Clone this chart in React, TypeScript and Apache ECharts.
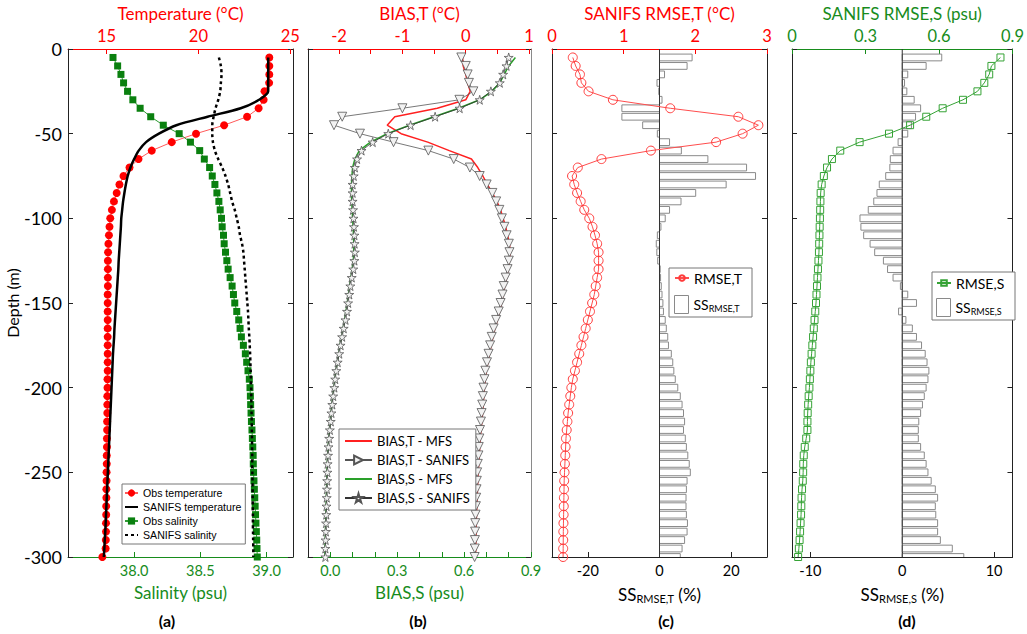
import React, { useEffect, useRef } from 'react';
import * as echarts from 'echarts';

// Depth levels (m), one per observation / model level
const depth = [
  -5, -10, -15, -20, -25, -30, -35, -40, -45, -50,
  -55, -60, -65, -70, -75, -80, -85, -90, -95, -100,
  -105, -110, -115, -120, -125, -130, -135, -140, -145, -150,
  -155, -160, -165, -170, -175, -180, -185, -190, -195, -200,
  -205, -210, -215, -220, -225, -230, -235, -240, -245, -250,
  -255, -260, -265, -270, -275, -280, -285, -290, -295, -300,
];

// (a) profiles
const obsTemp = [
  23.86, 23.86, 23.86, 23.85, 23.6, 23.55, 23.28, 22.65, 21.4, 19.87,
  18.55, 17.46, 16.74, 16.25, 15.92, 15.7, 15.55, 15.4, 15.29, 15.2,
  15.16, 15.13, 15.1, 15.08, 15.07, 15.07, 15.07, 15.07, 15.06, 15.06,
  15.06, 15.06, 15.06, 15.06, 15.06, 15.06, 15.06, 15.06, 15.05, 15.05,
  15.04, 15.04, 15.04, 15.03, 15.03, 15.02, 15.02, 15.01, 15.01, 15.0,
  15.0, 14.99, 14.99, 14.98, 14.98, 14.97, 14.97, 14.96, 14.95, 14.77,
];
const sanifsTemp = [
  23.8, 23.8, 23.8, 23.8, 23.8, 23.3, 22.3, 20.5, 18.8, 17.85,
  17.15, 16.75, 16.5, 16.3, 16.15, 16.05, 15.97, 15.9, 15.85, 15.8,
  15.78, 15.75, 15.72, 15.69, 15.66, 15.64, 15.61, 15.58, 15.55, 15.52,
  15.49, 15.46, 15.43, 15.41, 15.38, 15.35, 15.33, 15.31, 15.29, 15.27,
  15.25, 15.23, 15.21, 15.19, 15.17, 15.15, 15.13, 15.11, 15.09, 15.07,
  15.05, 15.03, 15.01, 14.99, 14.97, 14.95, 14.93, 14.9, 14.88, 14.85,
];
const obsSal = [
  37.84, 37.875, 37.9, 37.92, 37.95, 37.99, 38.045, 38.125, 38.22, 38.34,
  38.425, 38.495, 38.53, 38.57, 38.59, 38.61, 38.625, 38.64, 38.65, 38.66,
  38.665, 38.675, 38.68, 38.69, 38.7, 38.71, 38.725, 38.74, 38.75, 38.76,
  38.775, 38.79, 38.8, 38.81, 38.825, 38.84, 38.85, 38.86, 38.87, 38.875,
  38.878, 38.88, 38.883, 38.886, 38.89, 38.893, 38.896, 38.899, 38.9, 38.902,
  38.905, 38.908, 38.911, 38.914, 38.917, 38.92, 38.923, 38.926, 38.928, 38.93,
];
const sanifsSal = [
  38.64, 38.655, 38.66, 38.655, 38.65, 38.635, 38.615, 38.6, 38.59, 38.59,
  38.595, 38.61, 38.635, 38.665, 38.69, 38.71, 38.725, 38.74, 38.76, 38.775,
  38.79, 38.8, 38.815, 38.825, 38.83, 38.835, 38.84, 38.845, 38.85, 38.855,
  38.86, 38.863, 38.866, 38.87, 38.873, 38.876, 38.878, 38.88, 38.882, 38.884,
  38.885, 38.886, 38.887, 38.888, 38.889, 38.89, 38.891, 38.892, 38.892, 38.893,
  38.894, 38.895, 38.895, 38.896, 38.897, 38.897, 38.898, 38.899, 38.9, 38.9,
];

// (b) biases
const biasTMfs = [
  -0.05, -0.04, 0.0, 0.03, 0.07, 0.0, -0.45, -1.12, -1.24, -1.02,
  -0.6, -0.26, 0.09, 0.19, 0.27, 0.34, 0.42, 0.49, 0.55, 0.59,
  0.63, 0.66, 0.69, 0.7, 0.69, 0.67, 0.645, 0.615, 0.59, 0.565,
  0.535, 0.5, 0.46, 0.43, 0.4, 0.375, 0.35, 0.325, 0.31, 0.295,
  0.285, 0.275, 0.265, 0.255, 0.24, 0.23, 0.22, 0.215, 0.205, 0.195,
  0.19, 0.185, 0.18, 0.175, 0.17, 0.165, 0.163, 0.16, 0.158, 0.155,
];
const biasTSanifs = [
  -0.07, 0.0, 0.03, 0.05, 0.12, -0.1, -1.0, -1.95, -2.08, -1.67,
  -1.14, -0.59, -0.19, 0.065, 0.22, 0.33, 0.42, 0.48, 0.53, 0.57,
  0.61, 0.645, 0.68, 0.69, 0.68, 0.66, 0.63, 0.6, 0.58, 0.55,
  0.52, 0.48, 0.44, 0.41, 0.385, 0.36, 0.335, 0.31, 0.295, 0.28,
  0.27, 0.26, 0.25, 0.24, 0.225, 0.215, 0.205, 0.2, 0.19, 0.18,
  0.175, 0.17, 0.165, 0.16, 0.155, 0.15, 0.148, 0.145, 0.143, 0.14,
];
const biasSMfs = [
  0.83, 0.8, 0.78, 0.76, 0.725, 0.67, 0.575, 0.465, 0.355, 0.255,
  0.18, 0.13, 0.11, 0.1, 0.097, 0.095, 0.095, 0.096, 0.098, 0.1,
  0.102, 0.104, 0.105, 0.105, 0.103, 0.098, 0.092, 0.086, 0.081, 0.076,
  0.07, 0.064, 0.057, 0.05, 0.043, 0.037, 0.031, 0.025, 0.02, 0.016,
  0.011, 0.007, 0.003, 0.0, -0.004, -0.007, -0.01, -0.012, -0.014, -0.015,
  -0.016, -0.017, -0.018, -0.019, -0.02, -0.021, -0.022, -0.023, -0.024, -0.024,
];
const biasSSanifs = [
  0.8, 0.79, 0.775, 0.76, 0.72, 0.67, 0.58, 0.47, 0.36, 0.26,
  0.19, 0.14, 0.12, 0.11, 0.105, 0.1, 0.1, 0.1, 0.102, 0.104,
  0.106, 0.108, 0.109, 0.11, 0.108, 0.103, 0.096, 0.09, 0.085, 0.08,
  0.075, 0.068, 0.06, 0.053, 0.046, 0.04, 0.033, 0.027, 0.022, 0.018,
  0.013, 0.009, 0.005, 0.002, -0.002, -0.005, -0.008, -0.01, -0.012, -0.013,
  -0.014, -0.015, -0.016, -0.017, -0.018, -0.019, -0.02, -0.021, -0.022, -0.022,
];

// (c) temperature RMSE and skill score
const rmseT = [
  0.29, 0.33, 0.39, 0.41, 0.51, 0.85, 1.65, 2.6, 2.88, 2.66,
  2.29, 1.38, 0.69, 0.36, 0.28, 0.31, 0.35, 0.4, 0.45, 0.52,
  0.565, 0.6, 0.63, 0.65, 0.65, 0.65, 0.63, 0.61, 0.59, 0.56,
  0.53, 0.5, 0.47, 0.44, 0.41, 0.38, 0.35, 0.32, 0.29, 0.27,
  0.255, 0.24, 0.225, 0.215, 0.205, 0.195, 0.19, 0.185, 0.18, 0.175,
  0.17, 0.168, 0.166, 0.164, 0.162, 0.16, 0.158, 0.157, 0.156, 0.155,
];
const ssT = [
  9.1, 7.7, 1.4, -0.7, -0.2, 0.7, -10.5, -10.5, -4.7, -0.6,
  2.8, 6.1, 13.5, 24.3, 26.8, 18.6, 10.1, 6.0, 2.8, 1.6,
  0.4, -0.6, -0.9, -0.75, -0.5, 0.2, 0.3, 0.5, 0.7, 0.95,
  1.1, 1.6, 1.9, 2.3, 2.5, 3.3, 3.7, 4.0, 4.4, 5.1,
  5.8, 6.3, 6.7, 7.0, 6.7, 7.2, 7.5, 7.9, 8.3, 8.6,
  7.7, 7.5, 7.4, 7.4, 7.5, 7.8, 7.7, 7.0, 6.3, 5.8,
];

// (d) salinity RMSE and skill score
const rmseS = [
  0.851, 0.814, 0.805, 0.785, 0.757, 0.698, 0.615, 0.548, 0.482, 0.396,
  0.276, 0.197, 0.163, 0.143, 0.13, 0.121, 0.117, 0.116, 0.115, 0.114,
  0.113, 0.112, 0.111, 0.11, 0.108, 0.106, 0.104, 0.102, 0.1, 0.098,
  0.095, 0.092, 0.089, 0.086, 0.083, 0.08, 0.077, 0.075, 0.073, 0.071,
  0.068, 0.066, 0.064, 0.063, 0.063, 0.058, 0.052, 0.048, 0.046, 0.0455,
  0.044, 0.041, 0.039, 0.038, 0.037, 0.035, 0.033, 0.031, 0.028, 0.025,
];
const ssS = [
  4.3, 2.6, 0.6, 0.25, 0.5, 1.3, 2.0, 1.45, 1.0, 0.6,
  -0.45, -1.0, -1.3, -1.35, -1.8, -2.5, -2.75, -3.1, -3.7, -4.6,
  -4.5, -4.2, -3.5, -3.0, -2.05, -1.6, -1.0, -0.2, 0.6, 1.55,
  -0.4, 0.4, 1.1, 1.55, 2.1, 2.5, 2.7, 2.9, 2.8, 2.6,
  2.4, 2.2, 2.0, 1.8, 1.75, 1.75, 2.0, 2.4, 2.6, 2.8,
  3.15, 3.6, 3.85, 3.6, 3.65, 3.85, 3.85, 4.15, 5.45, 6.7,
];

// Tick positions
const depthTicks = [0, -50, -100, -150, -200, -250, -300];
const tempTicks = [15, 20, 25];
const salTicks = [38.0, 38.5, 39.0];
const biasTLabels = [-2, -1, 0, 1];
const biasTTicks = [-2, -1.5, -1, -0.5, 0, 0.5, 1];
const biasSLabels = [0.0, 0.3, 0.6, 0.9];
const biasSTicks = [0.0, 0.1, 0.2, 0.3, 0.4, 0.5, 0.6, 0.7, 0.8, 0.9];
const rmseTTicks = [0, 1, 2, 3];
const ssTTicks = [-20, 0, 20];
const rmseSTicks = [0, 0.3, 0.6, 0.9];
const ssSTicks = [-10, 0, 10];

const FONT = 'Lato';
const RED = '#ff0000';
const GREEN = '#178c1c';
const DARK = '#222222';
const CLEAR = 'rgba(0,0,0,0)';

const pair = (xs: number[]) => xs.map((v, i) => [v, depth[i]]);
const fixed1 = (v: number) => v.toFixed(1);

const GRID_TOP = 49;
const GRID_H = 508;

function xAxisDef(
  gridIndex: number,
  position: 'top' | 'bottom',
  min: number,
  max: number,
  labels: number[],
  ticks: number[],
  color: string,
  textColor: string,
  name: string,
  formatter?: (v: number) => string,
  rich?: any,
) {
  const top = position === 'top';
  return {
    type: 'value',
    gridIndex,
    position,
    min,
    max,
    axisLine: { show: true, onZero: false, lineStyle: { color, width: 1 } },
    axisTick: { show: true, inside: true, length: 5, customValues: ticks, lineStyle: { color, width: 1 } },
    axisLabel: {
      show: true,
      customValues: labels,
      color: textColor,
      fontFamily: FONT,
      fontSize: top ? 16.5 : 14.5,
      margin: top ? 5 : 6,
      formatter,
    },
    splitLine: { show: false },
    name,
    nameLocation: 'middle',
    nameGap: top ? 24 : 27,
    nameTextStyle: { color: textColor, fontFamily: FONT, fontSize: 17, rich },
  };
}

function yAxisDef(gridIndex: number, position: 'left' | 'right', withLabels: boolean, lineColor = DARK) {
  return {
    type: 'value',
    gridIndex,
    position,
    min: -300,
    max: 0,
    interval: 50,
    axisLine: { show: true, onZero: false, lineStyle: { color: lineColor, width: 1 } },
    axisTick: { show: true, inside: true, length: 5, customValues: depthTicks, lineStyle: { color: DARK } },
    axisLabel: {
      show: withLabels,
      color: '#000',
      fontFamily: FONT,
      fontSize: 18,
      margin: 6,
    },
    splitLine: { show: false },
    name: withLabels ? 'Depth (m)' : '',
    nameLocation: 'middle',
    nameGap: 45,
    nameTextStyle: { color: '#000', fontFamily: FONT, fontSize: 16 },
  };
}

function skillBars(name: string, xAxisIndex: number, yAxisIndex: number, values: number[]) {
  return {
    name,
    type: 'custom',
    xAxisIndex,
    yAxisIndex,
    clip: true,
    z: 1,
    data: pair(values),
    encode: { x: 0, y: 1 },
    itemStyle: { color: '#ffffff', borderColor: '#8a8a8a', borderWidth: 1 },
    renderItem: (_params: any, api: any) => {
      const v = api.value(0);
      const d = api.value(1);
      const a = api.coord([0, d]);
      const b = api.coord([v, d]);
      const h = api.size([0, 5])[1] * 0.8;
      return {
        type: 'rect',
        shape: { x: Math.min(a[0], b[0]), y: a[1] - h / 2, width: Math.abs(b[0] - a[0]), height: h },
        style: { fill: '#ffffff', stroke: '#8a8a8a', lineWidth: 1 },
      };
    },
  };
}

function zeroLine(xAxisIndex: number, yAxisIndex: number) {
  return {
    type: 'line',
    xAxisIndex,
    yAxisIndex,
    data: [[0, 0], [0, -300]],
    symbol: 'none',
    silent: true,
    z: 2,
    lineStyle: { color: '#333', width: 1 },
  };
}

// A profile drawn as a plain line; its marker stays hidden so the legend key is a bare line
function plainLine(name: string, xAxisIndex: number, yAxisIndex: number, values: number[], lineStyle: any, smooth = 0) {
  return {
    name,
    type: 'line',
    xAxisIndex,
    yAxisIndex,
    z: 5,
    data: pair(values),
    symbol: 'circle',
    showSymbol: false,
    smooth,
    itemStyle: { color: CLEAR, borderWidth: 0 },
    lineStyle,
  };
}

const STAR = 'path://M50,0 L61,35 L98,35 L68,57 L79,91 L50,70 L21,91 L32,57 L2,35 L39,35 Z';

const subRich = {
  m: { fontFamily: FONT, fontSize: 17, color: '#000' },
  s: { fontFamily: FONT, fontSize: 11, color: '#000', padding: [9, 0, 0, 0] },
};
const legendRich = {
  m: { fontFamily: FONT, fontSize: 14, color: '#000' },
  s: { fontFamily: FONT, fontSize: 9, color: '#000', padding: [7, 0, 0, 0] },
};

const plainLegend = {
  orient: 'vertical',
  selectedMode: false,
  padding: 0,
  z: 20,
  textStyle: { fontFamily: FONT, fontSize: 14, color: '#000', rich: legendRich },
};

const panelLabel = (text: string, x: number) => ({
  type: 'text',
  x,
  y: 620,
  style: { text, font: `bold 16px ${FONT}`, fill: '#000', align: 'center', verticalAlign: 'middle' },
});

function buildOption() {
  return {
    animation: false,
    backgroundColor: '#ffffff',
    grid: [
      { left: 68, top: GRID_TOP, width: 225, height: GRID_H },
      { left: 308, top: GRID_TOP, width: 223, height: GRID_H },
      { left: 552, top: GRID_TOP, width: 215, height: GRID_H },
      { left: 792, top: GRID_TOP, width: 226, height: GRID_H },
    ],
    xAxis: [
      xAxisDef(0, 'top', 12.9, 25.15, tempTicks, tempTicks, RED, RED, 'Temperature (°C)'),
      xAxisDef(0, 'bottom', 37.5, 39.2, salTicks, salTicks, GREEN, GREEN, 'Salinity (psu)', fixed1),
      xAxisDef(1, 'top', -2.49, 1.03, biasTLabels, biasTTicks, RED, RED, 'BIAS,T (°C)'),
      xAxisDef(1, 'bottom', -0.1, 0.9, biasSLabels, biasSTicks, GREEN, GREEN, 'BIAS,S (psu)', fixed1),
      xAxisDef(2, 'top', 0, 3, rmseTTicks, rmseTTicks, RED, RED, 'SANIFS RMSE,T (°C)'),
      xAxisDef(2, 'bottom', -30, 30, ssTTicks, ssTTicks, DARK, '#000', '{m|SS}{s|RMSE,T}{m| (%)}', undefined, subRich),
      xAxisDef(3, 'top', 0, 0.9, rmseSTicks, rmseSTicks, GREEN, GREEN, 'SANIFS RMSE,S (psu)', (v: number) => (v === 0 ? '0' : v.toFixed(1))),
      xAxisDef(3, 'bottom', -12, 12, ssSTicks, ssSTicks, DARK, '#000', '{m|SS}{s|RMSE,S}{m| (%)}', undefined, subRich),
    ],
    yAxis: [
      yAxisDef(0, 'left', true),
      yAxisDef(0, 'right', false),
      yAxisDef(1, 'left', false),
      yAxisDef(1, 'right', false, '#8a8a8a'),
      yAxisDef(2, 'left', false),
      yAxisDef(2, 'right', false),
      yAxisDef(3, 'left', false),
      yAxisDef(3, 'right', false),
    ],
    legend: [
      {
        orient: 'vertical',
        left: 122,
        top: 484,
        padding: [3, 4, 3, 2],
        itemGap: 2,
        itemWidth: 13,
        itemHeight: 9,
        borderColor: '#777',
        borderWidth: 1,
        backgroundColor: '#fff',
        selectedMode: false,
        z: 20,
        textStyle: { fontFamily: 'Liberation Sans', fontSize: 10.6, lineHeight: 12, color: '#000' },
        data: ['Obs temperature', 'SANIFS temperature', 'Obs salinity', 'SANIFS salinity'],
      },
      {
        orient: 'vertical',
        left: 339,
        top: 429,
        padding: [5, 6, 5, 5],
        itemGap: 5,
        itemWidth: 27,
        itemHeight: 11,
        borderColor: '#777',
        borderWidth: 1,
        backgroundColor: '#fff',
        selectedMode: false,
        z: 20,
        textStyle: { fontFamily: FONT, fontSize: 13, lineHeight: 14, color: '#000' },
        data: [
          'BIAS,T - MFS',
          { name: 'BIAS,T - SANIFS', symbolRotate: -90 },
          'BIAS,S - MFS',
          'BIAS,S - SANIFS',
        ],
      },
      // (c) keys: line-with-marker row and skill-score box row, framed by a graphic rect
      { ...plainLegend, left: 674, top: 271, itemWidth: 14, itemHeight: 7, data: ['RMSE,T'] },
      {
        ...plainLegend,
        left: 674,
        top: 295,
        itemWidth: 14,
        itemHeight: 18,
        formatter: () => '{m|SS}{s|RMSE,T}',
        data: [{ name: 'SS RMSE,T', icon: 'rect', itemStyle: { color: '#fff', borderColor: '#8a8a8a', borderWidth: 1 } }],
      },
      // (d) keys
      { ...plainLegend, left: 936, top: 276, itemWidth: 14, itemHeight: 7, data: ['RMSE,S'] },
      {
        ...plainLegend,
        left: 936,
        top: 298,
        itemWidth: 14,
        itemHeight: 18,
        formatter: () => '{m|SS}{s|RMSE,S}',
        data: [{ name: 'SS RMSE,S', icon: 'rect', itemStyle: { color: '#fff', borderColor: '#8a8a8a', borderWidth: 1 } }],
      },
    ],
    graphic: [
      { type: 'rect', z: 10, shape: { x: 669, y: 268, width: 83, height: 49 }, style: { fill: '#fff', stroke: '#777', lineWidth: 1 } },
      { type: 'rect', z: 10, shape: { x: 932, y: 272, width: 83, height: 48 }, style: { fill: '#fff', stroke: '#777', lineWidth: 1 } },
      panelLabel('(a)', 167),
      panelLabel('(b)', 418),
      panelLabel('(c)', 666),
      panelLabel('(d)', 907),
    ],
    series: [
      // (a)
      {
        name: 'Obs temperature', type: 'line', xAxisIndex: 0, yAxisIndex: 0, z: 4,
        data: pair(obsTemp), symbol: 'circle', symbolSize: 8,
        itemStyle: { color: '#ff0000' }, lineStyle: { color: '#ff5a5a', width: 1 },
      },
      plainLine('SANIFS temperature', 0, 0, sanifsTemp, { color: '#000', width: 2.5 }, 0.3),
      {
        name: 'Obs salinity', type: 'line', xAxisIndex: 1, yAxisIndex: 0, z: 4,
        data: pair(obsSal), symbol: 'rect', symbolSize: 7,
        itemStyle: { color: '#0a800f' }, lineStyle: { color: '#2f9a33', width: 1 },
      },
      plainLine('SANIFS salinity', 1, 0, sanifsSal, { color: '#000', width: 2.5, type: [3, 3] }, 0.3),
      // (b)
      plainLine('BIAS,T - MFS', 2, 2, biasTMfs, { color: '#ff2020', width: 1.5 }),
      {
        name: 'BIAS,T - SANIFS', type: 'line', xAxisIndex: 2, yAxisIndex: 2, z: 5,
        data: pair(biasTSanifs), symbol: 'triangle', symbolRotate: 180, symbolSize: 9,
        itemStyle: { color: '#f2f2f2', borderColor: '#555', borderWidth: 0.8 },
        lineStyle: { color: '#555', width: 0.8 },
      },
      plainLine('BIAS,S - MFS', 3, 2, biasSMfs, { color: '#2aa02a', width: 1.5 }),
      {
        name: 'BIAS,S - SANIFS', type: 'line', xAxisIndex: 3, yAxisIndex: 2, z: 5,
        data: pair(biasSSanifs), symbol: STAR, symbolSize: 9,
        itemStyle: { color: '#f2f2f2', borderColor: '#555', borderWidth: 0.8 },
        lineStyle: { color: '#333', width: 0.8 },
      },
      // (c)
      skillBars('SS RMSE,T', 5, 4, ssT),
      zeroLine(5, 4),
      {
        name: 'RMSE,T', type: 'line', xAxisIndex: 4, yAxisIndex: 4, z: 5,
        data: pair(rmseT), symbol: 'circle', symbolSize: 9,
        itemStyle: { color: CLEAR, borderColor: '#ff3b3b', borderWidth: 1 },
        lineStyle: { color: '#ff4d4d', width: 1 },
      },
      // (d)
      skillBars('SS RMSE,S', 7, 6, ssS),
      zeroLine(7, 6),
      {
        name: 'RMSE,S', type: 'line', xAxisIndex: 6, yAxisIndex: 6, z: 5,
        data: pair(rmseS), symbol: 'rect', symbolSize: 7,
        itemStyle: { color: CLEAR, borderColor: '#36a336', borderWidth: 1 },
        lineStyle: { color: '#36a336', width: 1 },
      },
    ],
  };
}

export default function App() {
  const ref = useRef<HTMLDivElement>(null);
  useEffect(() => {
    const chart = echarts.init(ref.current as HTMLDivElement, null, { renderer: 'svg' });
    chart.setOption(buildOption() as any);
    return () => chart.dispose();
  }, []);
  return (
    <div
      ref={ref}
      style={{ position: 'fixed', left: 0, top: 0, width: 1027, height: 634, background: '#fff' }}
    />
  );
}
